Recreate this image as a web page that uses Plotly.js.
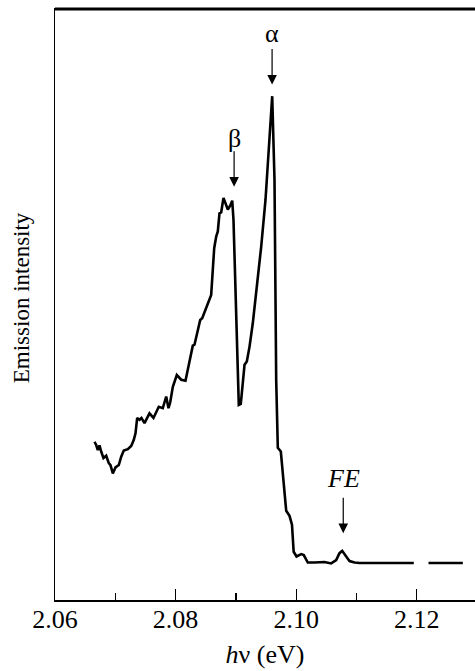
<!DOCTYPE html>
<html>
<head>
<meta charset="utf-8">
<script src="https://cdn.plot.ly/plotly-3.0.1.min.js"></script>
<style>html,body{margin:0;padding:0;background:#fff;}#chart{width:475px;height:671px;}</style>
</head>
<body>
<div id="chart"></div>
<script>
// Photon energy (eV) and emission intensity (arb. units, baseline = 0)
const energy = [
  2.06655, 2.06683, 2.06710, 2.06738, 2.06766, 2.06804, 2.06849, 2.06892, 2.06920, 2.06959,
  2.07003, 2.07058, 2.07098, 2.07141, 2.07207, 2.07264, 2.07307, 2.07335, 2.07363, 2.07401,
  2.07434, 2.07484, 2.07567, 2.07633, 2.07721, 2.07788, 2.07844, 2.07882, 2.07910, 2.07954,
  2.08020, 2.08093, 2.08164, 2.08231, 2.08285, 2.08313, 2.08352, 2.08408, 2.08441, 2.08507,
  2.08590, 2.08617, 2.08640, 2.08673, 2.08700, 2.08728, 2.08756, 2.08794, 2.08828, 2.08866,
  2.08905, 2.08939, 2.08960, 2.09005, 2.09048, 2.09081, 2.09114, 2.09143, 2.09181, 2.09226,
  2.09280, 2.09337, 2.09420, 2.09491, 2.09602, 2.09640, 2.09668, 2.09695, 2.09745, 2.09834,
  2.09889, 2.09930, 2.09958, 2.10005, 2.10083, 2.10126, 2.10192, 2.10303, 2.10469, 2.10580,
  2.10663, 2.10718, 2.10763, 2.10829, 2.10884, 2.10967, 2.11050, 2.11950,
  null,
  2.12194, 2.12763
];
const intensity = [
  26.0, 25.3, 24.2, 25.2, 23.9, 22.5, 23.0, 21.4, 21.0, 19.2,
  20.5, 21.0, 22.8, 24.1, 24.4, 25.1, 26.4, 27.8, 31.1, 30.7,
  31.1, 30.0, 32.1, 31.1, 33.5, 33.2, 35.7, 33.2, 34.4, 37.8,
  40.3, 39.3, 39.1, 43.2, 46.6, 46.8, 49.3, 52.1, 52.5, 54.7,
  57.5, 62.9, 67.5, 70.0, 71.1, 75.0, 75.2, 78.3, 77.3, 75.8,
  76.6, 77.7, 73.6, 53.6, 33.9, 34.1, 39.3, 42.5, 43.2, 46.4,
  51.4, 57.9, 67.9, 77.9, 100.1, 82.2, 39.3, 24.7, 23.9, 11.2,
  10.1, 8.2, 2.4, 1.4, 1.9, 1.7, 0.1, 0.1, 0.2, -0.1,
  0.6, 2.1, 2.6, 1.4, 0.4, 0.1, 0.0, 0.0,
  null,
  0.0, 0.0
];
// Peak markers
const peakLabels = ["α", "β", "<i>FE</i>"];
const peakEnergy = [2.0960, 2.0897, 2.1078];
const peakTip = [102.6, 80.7, 6.4];
const labelLevel = [113.5, 91.0, 18.2];
const xTickVals = [2.06, 2.08, 2.10, 2.12];
const xTickText = ["2.06", "2.08", "2.10", "2.12"];

const serif = "Liberation Serif";
const annotations = [];
for (let i = 0; i < peakLabels.length; i++) {
  annotations.push({
    x: peakEnergy[i], y: peakTip[i], xref: "x", yref: "y",
    text: "", showarrow: true, ax: 0, ay: -37,
    arrowhead: 2, arrowsize: 1.6, arrowwidth: 1.2, arrowcolor: "#000"
  });
  annotations.push({
    x: peakEnergy[i], y: labelLevel[i], xref: "x", yref: "y",
    text: peakLabels[i], showarrow: false, xanchor: "center", yanchor: "middle",
    font: {family: serif, size: 26, color: "#000"}
  });
}
// y-axis title as a rotated annotation
annotations.push({
  x: -0.079, y: 0.512, xref: "paper", yref: "paper",
  text: "Emission intensity", textangle: -90, showarrow: false,
  xanchor: "center", yanchor: "middle",
  font: {family: serif, size: 23, color: "#000"}
});

const data = [{
  x: energy, y: intensity, type: "scatter", mode: "lines",
  connectgaps: false,
  line: {color: "#000", width: 2.6, shape: "linear"},
  hoverinfo: "skip"
}];

const layout = {
  width: 475, height: 671,
  margin: {l: 55, r: 0, t: 9, b: 71, autoexpand: false},
  paper_bgcolor: "#fff", plot_bgcolor: "#fff",
  showlegend: false,
  font: {family: serif, color: "#000"},
  xaxis: {
    range: [2.06, 2.12965],
    showgrid: false, zeroline: false,
    showline: true, linecolor: "#000", linewidth: 1.5, mirror: true,
    ticks: "inside", ticklen: 11, tickwidth: 1.2, tickcolor: "#000",
    tickvals: xTickVals, ticktext: xTickText,
    minor: {dtick: 0.01, tick0: 2.06, ticks: "inside", ticklen: 7, tickwidth: 1.2, tickcolor: "#000"},
    tickfont: {family: serif, size: 26, color: "#000"},
    ticklabelstandoff: -5,
    title: {text: "<i>h</i>ν (eV)", font: {family: serif, size: 26, color: "#000"}, standoff: 12}
  },
  yaxis: {
    range: [-7.94, 118.8],
    showgrid: false, zeroline: false,
    showline: true, linecolor: "#000", linewidth: 1.5, mirror: false,
    ticks: "", showticklabels: false
  },
  shapes: [{
    type: "line", xref: "paper", yref: "paper", x0: 0, x1: 1, y0: 1, y1: 1,
    line: {color: "#000", width: 3}, layer: "above"
  }],
  annotations: annotations
};

Plotly.newPlot("chart", data, layout, {staticPlot: true, displayModeBar: false});
</script>
</body>
</html>
